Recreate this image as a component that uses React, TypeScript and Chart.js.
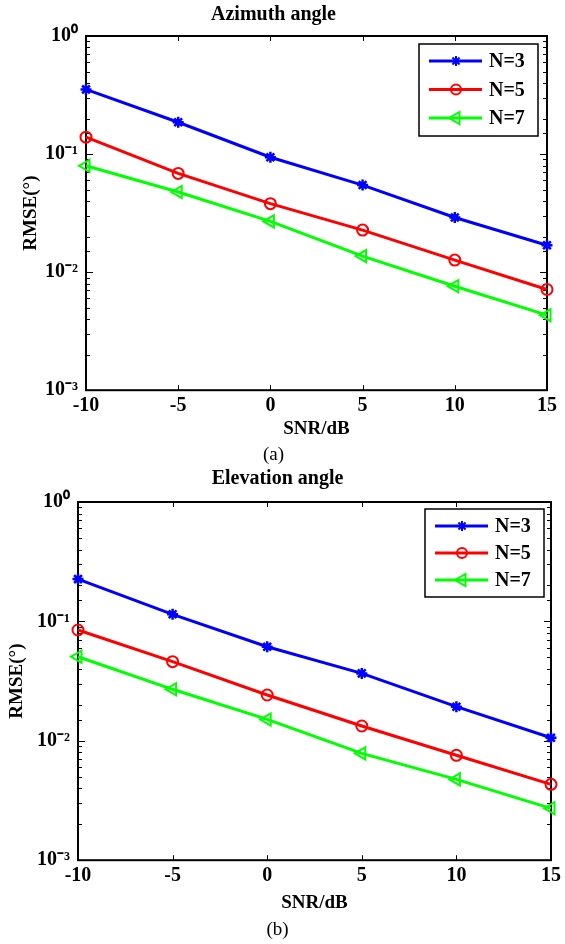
import React, { useEffect, useRef } from 'react';
import { Chart, registerables } from 'chart.js';

Chart.register(...registerables);

// ---------------- data ----------------
const snrDb = [-10, -5, 0, 5, 10, 15];
const seriesLabels = ['N=3', 'N=5', 'N=7'];

const azimuthN3 = [0.353, 0.186, 0.094, 0.0546, 0.029, 0.0169];
const azimuthN5 = [0.139, 0.0686, 0.038, 0.0227, 0.01265, 0.00713];
const azimuthN7 = [0.0796, 0.0477, 0.0269, 0.01367, 0.0076, 0.00432];

const elevationN3 = [0.226, 0.1146, 0.0614, 0.0367, 0.0193, 0.0106];
const elevationN5 = [0.0847, 0.046, 0.0242, 0.0133, 0.00756, 0.00432];
const elevationN7 = [0.0506, 0.027, 0.0151, 0.00785, 0.00475, 0.00272];

const xTickStep = 5;
const yMin = 0.001;
const yMax = 1;

// ---------------- helpers ----------------
const FONT = "'Liberation Serif', 'Times New Roman', serif";
const SUP: Record<string, string> = { '0': '\u2070', '1': '\u00B9', '2': '\u00B2', '3': '\u00B3', '-': '\u207B' };
const sup = (n: number) => String(n).split('').map((c) => SUP[c] || c).join('');
const isPow10 = (v: number) => {
  const e = Math.log10(v);
  return Math.abs(e - Math.round(e)) < 1e-9;
};

const seriesStyles = [
  { color: '#0000FF', pointStyle: 'star', radius: 5.5, rotation: 0, pbw: 2.5 },
  { color: '#FF0000', pointStyle: 'circle', radius: 5.5, rotation: 0, pbw: 2 },
  { color: '#00FF00', pointStyle: 'triangle', radius: 7, rotation: -90, pbw: 2 },
];

const framePlugin = {
  id: 'matlabFrame',
  beforeDatasetsDraw(chart: any) {
    const { ctx, chartArea: a, scales } = chart;
    const x = scales.x;
    const y = scales.y;
    ctx.save();
    ctx.strokeStyle = '#000';
    ctx.lineWidth = 1;
    const line = (x1: number, y1: number, x2: number, y2: number) => {
      ctx.beginPath();
      ctx.moveTo(x1, y1);
      ctx.lineTo(x2, y2);
      ctx.stroke();
    };
    y.ticks.forEach((t: any) => {
      const p = Math.round(y.getPixelForValue(t.value)) + 0.5;
      const len = isPow10(t.value) ? 7 : 4;
      line(a.left, p, a.left + len, p);
      line(a.right, p, a.right - len, p);
    });
    x.ticks.forEach((t: any) => {
      const p = Math.round(x.getPixelForValue(t.value)) + 0.5;
      line(p, a.bottom, p, a.bottom - 5);
      line(p, a.top, p, a.top + 5);
    });
    ctx.lineWidth = 2;
    ctx.strokeRect(a.left, a.top, a.right - a.left, a.bottom - a.top);
    ctx.restore();
  },
};

function drawMarker(ctx: CanvasRenderingContext2D, style: string, cx: number, cy: number, r: number) {
  ctx.beginPath();
  if (style === 'circle') {
    ctx.arc(cx, cy, r, 0, Math.PI * 2);
  } else if (style === 'triangle') {
    ctx.moveTo(cx - r, cy);
    ctx.lineTo(cx + r * 0.5, cy - r * 0.866);
    ctx.lineTo(cx + r * 0.5, cy + r * 0.866);
    ctx.closePath();
  } else {
    for (let k = 0; k < 4; k++) {
      const ang = (k * Math.PI) / 4;
      ctx.moveTo(cx - r * Math.cos(ang), cy - r * Math.sin(ang));
      ctx.lineTo(cx + r * Math.cos(ang), cy + r * Math.sin(ang));
    }
  }
  ctx.stroke();
}

const legendPlugin = {
  id: 'matlabLegend',
  afterDatasetsDraw(chart: any, _args: any, opts: any) {
    const { ctx, chartArea: a } = chart;
    const w = 119;
    const h = opts.height;
    const bx = a.right - opts.insetRight - w;
    const by = a.top + opts.insetTop;
    ctx.save();
    ctx.fillStyle = '#fff';
    ctx.fillRect(bx, by, w, h);
    ctx.strokeStyle = '#000';
    ctx.lineWidth = 1.5;
    ctx.strokeRect(bx, by, w, h);
    chart.data.datasets.forEach((ds: any, i: number) => {
      const st = seriesStyles[i];
      const cy = by + 17 + i * opts.rowGap;
      ctx.strokeStyle = st.color;
      ctx.lineWidth = 3;
      ctx.beginPath();
      ctx.moveTo(bx + 10, cy);
      ctx.lineTo(bx + 63, cy);
      ctx.stroke();
      ctx.lineWidth = 2;
      drawMarker(ctx, st.pointStyle, bx + 37, cy, st.pointStyle === 'triangle' ? 7 : 5);
      ctx.fillStyle = '#000';
      ctx.font = `bold 20px ${FONT}`;
      ctx.textBaseline = 'middle';
      ctx.textAlign = 'left';
      ctx.fillText(ds.label, bx + 70, cy + 1);
    });
    ctx.restore();
  },
};

type PanelProps = {
  height: number;
  title: string;
  caption: string;
  series: number[][];
  pad: { right: number };
  titlePad: { top: number; bottom: number };
  capPad: number;
  yWidth: number;
  yTitlePad: number;
  xHeight: number;
  xTitlePad: number;
  legend: { insetRight: number; insetTop: number; height: number; rowGap: number };
};

function Panel(p: PanelProps) {
  const ref = useRef<HTMLCanvasElement | null>(null);
  useEffect(() => {
    if (!ref.current) return;
    const chart = new Chart(ref.current, {
      type: 'line',
      data: {
        labels: snrDb,
        datasets: p.series.map((vals, i) => {
          const st = seriesStyles[i];
          return {
            label: seriesLabels[i],
            data: snrDb.map((x, j) => ({ x, y: vals[j] })),
            borderColor: st.color,
            backgroundColor: st.color,
            borderWidth: 3,
            pointStyle: st.pointStyle as any,
            pointRadius: st.radius,
            pointRotation: st.rotation,
            pointBorderWidth: st.pbw,
            pointBorderColor: st.color,
            pointBackgroundColor: 'rgba(0,0,0,0)',
            tension: 0,
            clip: false as any,
          };
        }),
      },
      options: {
        responsive: false,
        animation: false,
        devicePixelRatio: 1,
        events: [],
        layout: { padding: { left: 0, right: p.pad.right, top: 0, bottom: 0 } },
        scales: {
          x: {
            type: 'linear',
            min: -10,
            max: 15,
            grid: { display: false, drawTicks: false },
            border: { display: false },
            ticks: {
              stepSize: xTickStep,
              padding: 4,
              color: '#000',
              font: { family: FONT, size: 20, weight: 'bold' },
            },
            title: {
              display: true,
              text: 'SNR/dB',
              color: '#000',
              font: { family: FONT, size: 19, weight: 'bold' },
              padding: { top: 0, bottom: p.xTitlePad },
            },
            afterFit: (s: any) => {
              s.height = p.xHeight;
            },
          },
          y: {
            type: 'logarithmic',
            min: yMin,
            max: yMax,
            grid: { display: false, drawTicks: false },
            border: { display: false },
            ticks: {
              autoSkip: false,
              padding: 8,
              color: '#000',
              font: { family: FONT, size: 20, weight: 'bold' },
              callback: (v: any) => {
                const n = Number(v);
                return isPow10(n) ? '10' + sup(Math.round(Math.log10(n))) : '';
              },
            },
            title: {
              display: true,
              text: 'RMSE(\u00B0)',
              color: '#000',
              font: { family: FONT, size: 19, weight: 'bold' },
              padding: { top: p.yTitlePad, bottom: 0 },
            },
            afterFit: (s: any) => {
              s.width = p.yWidth;
            },
          },
        },
        plugins: {
          legend: { display: false },
          tooltip: { enabled: false },
          title: {
            display: true,
            text: p.title,
            color: '#000',
            font: { family: FONT, size: 20, weight: 'bold' },
            padding: p.titlePad,
          },
          subtitle: {
            display: true,
            position: 'bottom',
            text: p.caption,
            color: '#000',
            font: { family: FONT, size: 19, weight: 'normal' },
            padding: { top: 0, bottom: p.capPad },
          },
          matlabLegend: p.legend,
        } as any,
      },
      plugins: [framePlugin, legendPlugin],
    } as any);
    return () => chart.destroy();
  }, []);
  return (
    <div style={{ width: 565, height: p.height }}>
      <canvas ref={ref} width={565} height={p.height} style={{ display: 'block' }} />
    </div>
  );
}

export default function App() {
  return (
    <div style={{ position: 'absolute', left: 0, top: 0, width: 565, height: 944, background: '#fff' }}>
      <Panel
        height={466}
        title="Azimuth angle"
        caption="(a)"
        series={[azimuthN3, azimuthN5, azimuthN7]}
        pad={{ right: 18 }}
        titlePad={{ top: 3, bottom: 9 }}
        capPad={0}
        yWidth={86}
        yTitlePad={20}
        xHeight={53}
        xTitlePad={3}
        legend={{ insetRight: 9, insetTop: 8, height: 92, rowGap: 28.5 }}
      />
      <Panel
        height={478}
        title="Elevation angle"
        caption="(b)"
        series={[elevationN3, elevationN5, elevationN7]}
        pad={{ right: 10 }}
        titlePad={{ top: 1, bottom: 11 }}
        capPad={3}
        yWidth={78}
        yTitlePad={6}
        xHeight={58}
        xTitlePad={4}
        legend={{ insetRight: 7, insetTop: 7, height: 88, rowGap: 27 }}
      />
    </div>
  );
}
